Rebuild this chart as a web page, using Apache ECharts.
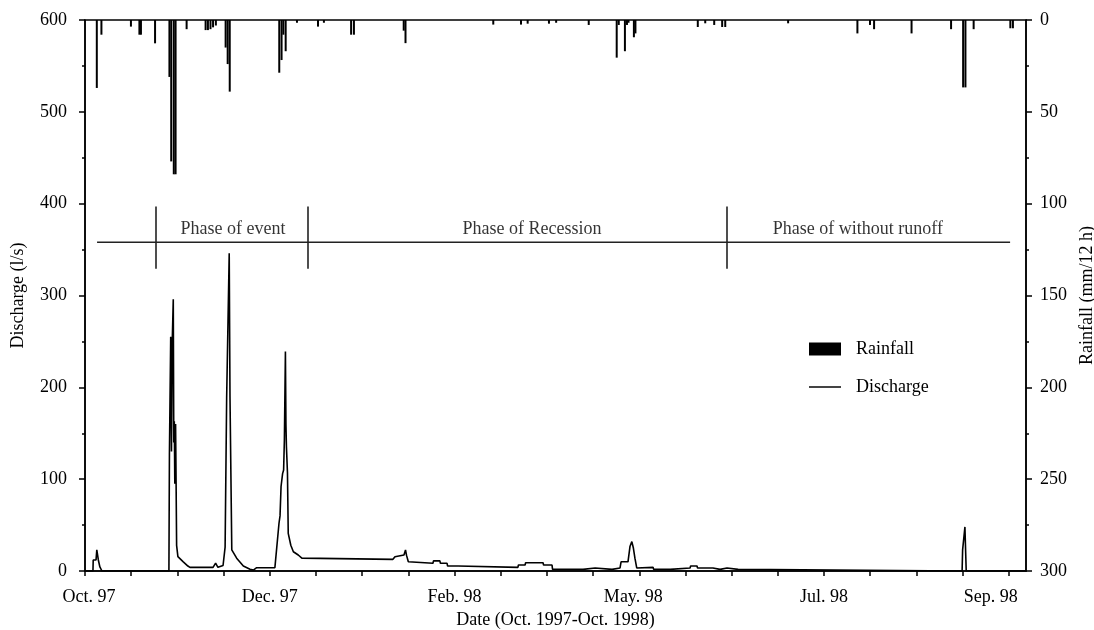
<!DOCTYPE html>
<html>
<head>
<meta charset="utf-8">
<script src="https://cdn.jsdelivr.net/npm/echarts@6/dist/echarts.min.js"></script>
<style>html,body{margin:0;padding:0;background:#fff;}#chart{width:1094px;height:630px;}</style>
</head>
<body>
<div id="chart"></div>
<script>
// x unit: days from start of record (Oct. 1997)
const tickDays = [0,18,36,54,72,90,108,126,144,162,180,198,216,234,252,270,288,306,324,342,360];
const labelDays = [0,72,144,216,288,360];
const labelNames = ['Oct. 97','Dec. 97','Feb. 98','May. 98','Jul. 98','Sep. 98'];

// Rainfall (mm/12 h)
const rainDays = [4.6,6.4,17.9,21.2,21.8,27.3,32.9,33.6,34.6,35.3,39.6,47,47.9,48.9,49.9,51,54.8,55.6,56.4,
  75.7,76.6,77.3,78.2,82.6,90.8,93.1,103.7,104.8,124.2,124.9,
  159.1,169.9,172.5,180.8,183.6,196.3,207.2,208,210.4,211.2,211.8,213.9,214.5,238.8,241.7,245.2,248.3,249.5,
  274,301,305.9,307.5,322.1,337.5,342.2,343.1,346.3,360.6,361.6];
const rainValues = [37,8,3.6,8,8,12.7,31,77,84,84,5,5.5,5.5,5,4,3,15,24,39,
  28.7,21.8,8,17,1.5,3.6,1.5,8,8,5.8,12.6,
  2.5,2.5,2,2,1.5,2.7,20.5,2.7,17,2.7,1.5,9.4,7.3,3.8,1.8,2.7,3.8,3.8,
  1.8,7.3,2.7,5,7.3,5,36.7,36.7,5,4.5,4.5];

// Discharge (l/s)
const qDays = [0,3.1,3.2,4.3,4.6,5.2,5.7,5.8,6.4,6.6,
  32.7,32.9,33.4,33.7,34.0,34.4,34.6,34.8,35.0,35.3,35.5,35.7,36.2,38.3,40.1,40.9,49.9,50.9,51.8,53.8,
  54.6,55.2,55.9,56.2,56.5,56.8,57.2,59.1,61.7,64.3,65.6,66.9,74.0,74.7,75.6,76.0,76.4,77.0,77.4,77.7,
  78.1,78.3,78.5,78.9,79.2,80.2,81.2,83.1,84.5,85.1,120.0,120.8,124.3,124.9,125.3,126.0,126.7,135.6,135.8,
  138.3,138.5,141.1,141.3,145.4,145.6,168.7,168.9,171.5,171.7,178.5,178.7,182.0,182.2,194.1,194.3,198.8,
  199.0,205.4,205.6,208.5,208.9,211.6,212.4,213.1,213.7,214.3,215.0,215.1,221.4,221.6,228.0,228.2,235.8,
  236.0,238.5,238.7,244.7,244.9,247.5,247.7,250.2,250.4,254.5,254.7,341.8,342.0,342.7,342.9,343.3,343.4,366.7];
const qValues = [0,0,12,12,23,12,12,4.4,4.4,0,
  0,128,255,130,250,296,140,163,95,160,96,28,15.6,10,5.4,4,4,8.5,4,6,
  26,188,188,346,190,190,23,14,5.4,2,1,3.6,3.6,5.4,52,60,92,106,110,143,
  239,160,135,107,41,28,21,17.4,14,12.7,12.7,15.6,17.4,23,17,10,8.4,8.4,11,
  11,8.4,8.4,5.4,5.4,4,4,6.5,6.5,9,9,6.5,6.5,1.8,1.8,3.3,3.3,
  1.8,1.8,3.3,3.3,10,10,27,32,25,14,3.3,4,4,1.8,1.8,3.3,3.3,
  5.5,5.5,3.3,3.3,1.8,1.8,3.3,3.3,1.8,1.8,0,0,23,23,48,48,0,0];

// Hydrological phases
const phaseBounds = [27.7, 86.9, 250.2];
const phaseLineSpan = [4.7, 360.5];
const phaseLevel = 358;
const phaseBarRange = [329, 397];
const phaseNames = ['Phase of event','Phase of Recession','Phase of without runoff'];
const phaseLabelDays = [57.7, 174.2, 301.2];
const phaseLabelLevel = 372;

const FONT = 'Liberation Serif';
const FS = 18;

const chart = echarts.init(document.getElementById('chart'), null, {renderer:'canvas'});

const labelShift = {'Oct. 97':'a','Dec. 97':'b','Feb. 98':'b','May. 98':'c','Jul. 98':'b','Sep. 98':'d'};

const option = {
  animation: false,
  backgroundColor: '#fff',
  grid: {left: 85, right: 68, top: 20, bottom: 59, show: true, borderColor: '#000', borderWidth: 1.5,
    backgroundColor: 'transparent', containLabel: false, outerBoundsMode: 'none'},
  legend: {
    orient: 'vertical', left: 804, top: 335, itemWidth: 32, itemHeight: 13, itemGap: 20,
    symbolKeepAspect: true,
    textStyle: {fontFamily: FONT, fontSize: FS, color: '#000', padding: [0,0,0,10]},
    data: [
      {name: 'Rainfall', icon: 'rect', itemStyle: {color: '#000'}},
      {name: 'Discharge', icon: 'path://M0,0H32V2H0Z', itemStyle: {color: '#444'}}
    ]
  },
  xAxis: {
    type: 'value', min: 0, max: 366.7,
    name: 'Date (Oct. 1997-Oct. 1998)', nameLocation: 'middle', nameGap: 40,
    nameTextStyle: {fontFamily: FONT, fontSize: FS, color: '#000'},
    axisLine: {show: true, onZero: false, lineStyle: {color: '#000', width: 1.5}},
    axisTick: {show: true, inside: false, length: 5, lineStyle: {color: '#000', width: 1.5}, customValues: tickDays},
    axisLabel: {
      customValues: labelDays, margin: 17, color: '#000', fontFamily: FONT, fontSize: FS,
      formatter: function (v) {
        const i = labelDays.indexOf(Math.round(v));
        if (i < 0) return '';
        const n = labelNames[i];
        return '{' + labelShift[n] + '|' + n + '}';
      },
      rich: {
        a: {fontFamily: FONT, fontSize: FS, color: '#000', padding: [0,0,0,8]},
        b: {fontFamily: FONT, fontSize: FS, color: '#000'},
        c: {fontFamily: FONT, fontSize: FS, color: '#000', padding: [0,12,0,0]},
        d: {fontFamily: FONT, fontSize: FS, color: '#000', padding: [0,36,0,0]}
      }
    },
    splitLine: {show: false}
  },
  yAxis: [
    {
      type: 'value', min: 0, max: 600, interval: 100, position: 'left',
      name: 'Discharge (l/s)', nameLocation: 'middle', nameGap: 58, nameRotate: 90,
      nameTextStyle: {fontFamily: FONT, fontSize: FS, color: '#000'},
      axisLine: {show: true, lineStyle: {color: '#000', width: 1.5}},
      axisTick: {show: true, inside: false, length: 6, lineStyle: {color: '#000', width: 1.5}},
      minorTick: {show: true, splitNumber: 2, length: 3, lineStyle: {color: '#000', width: 1.5}},
      axisLabel: {color: '#000', fontFamily: FONT, fontSize: FS, margin: 18},
      splitLine: {show: false}
    },
    {
      type: 'value', min: 0, max: 300, interval: 50, position: 'right', inverse: true,
      name: 'Rainfall (mm/12 h)', nameLocation: 'middle', nameGap: 52, nameRotate: 90,
      nameTextStyle: {fontFamily: FONT, fontSize: FS, color: '#000'},
      axisLine: {show: true, lineStyle: {color: '#000', width: 1.5}},
      axisTick: {show: true, inside: false, length: 6, lineStyle: {color: '#000', width: 1.5}},
      minorTick: {show: true, splitNumber: 2, length: 3, lineStyle: {color: '#000', width: 1.5}},
      axisLabel: {color: '#000', fontFamily: FONT, fontSize: FS, margin: 14},
      splitLine: {show: false}
    }
  ],
  series: [
    {
      name: 'Rainfall', type: 'bar', yAxisIndex: 1, barWidth: 2,
      itemStyle: {color: '#000'},
      data: rainDays.map((d, i) => [d, rainValues[i]])
    },
    {
      name: 'Discharge', type: 'line', yAxisIndex: 0, symbol: 'none', showSymbol: false,
      lineStyle: {color: '#000', width: 1.6}, itemStyle: {color: '#444'},
      data: qDays.map((d, i) => [d, qValues[i]]), z: 3
    },
    {
      name: 'phases', type: 'line', yAxisIndex: 0, symbol: 'none', silent: true,
      lineStyle: {color: '#222', width: 1.6},
      data: phaseLineSpan.map(d => [d, phaseLevel]),
      markLine: {
        silent: true, symbol: 'none', label: {show: false},
        lineStyle: {color: '#222', width: 1.6, type: 'solid'},
        data: phaseBounds.map(d => [{coord: [d, phaseBarRange[0]]}, {coord: [d, phaseBarRange[1]]}])
      }
    },
    {
      name: 'phaseLabels', type: 'scatter', yAxisIndex: 0, symbolSize: 0, silent: true,
      label: {show: true, position: 'inside', color: '#000', fontFamily: FONT, fontSize: FS,
        formatter: p => phaseNames[p.dataIndex]},
      data: phaseLabelDays.map(d => [d, phaseLabelLevel])
    }
  ]
};
chart.setOption(option);
</script>
</body>
</html>
